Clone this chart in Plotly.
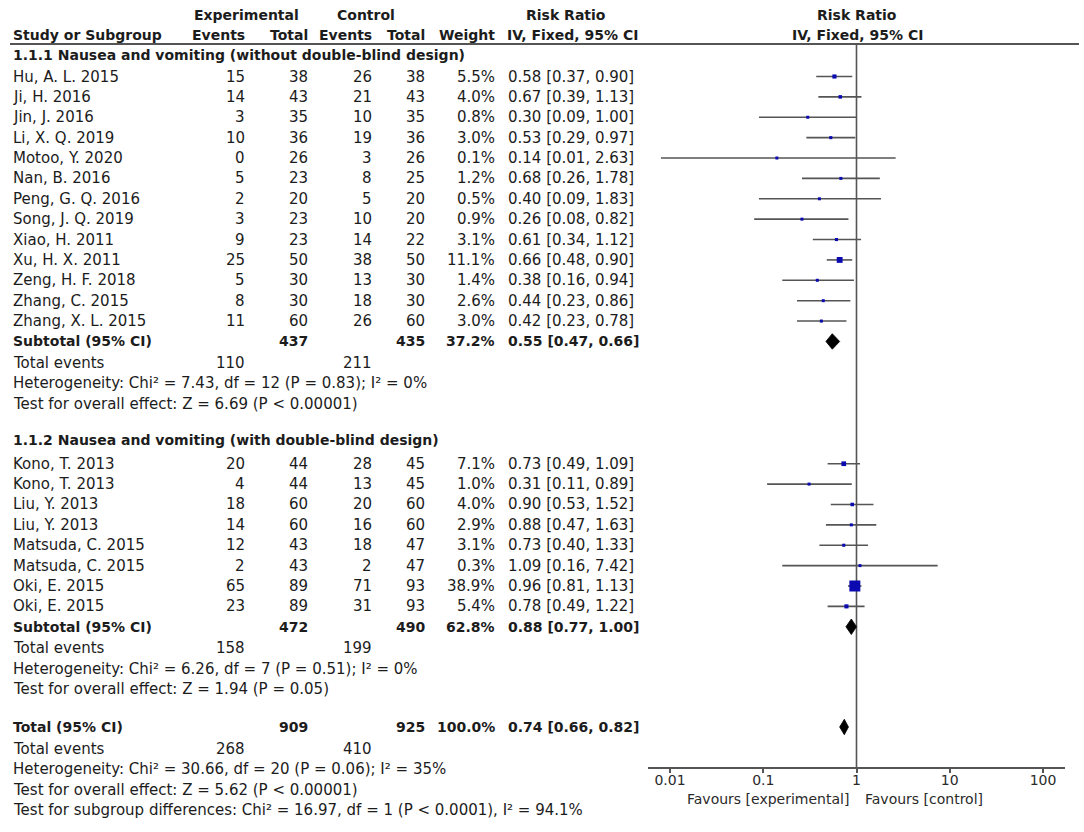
import plotly.graph_objects as go

# ---------------- data ----------------
# Subgroup 1.1.1
g1_study = ["Hu, A. L. 2015", "Ji, H. 2016", "Jin, J. 2016", "Li, X. Q. 2019", "Motoo, Y. 2020",
            "Nan, B. 2016", "Peng, G. Q. 2016", "Song, J. Q. 2019", "Xiao, H. 2011", "Xu, H. X. 2011",
            "Zeng, H. F. 2018", "Zhang, C. 2015", "Zhang, X. L. 2015"]
g1_exp_ev = [15, 14, 3, 10, 0, 5, 2, 3, 9, 25, 5, 8, 11]
g1_exp_tot = [38, 43, 35, 36, 26, 23, 20, 23, 23, 50, 30, 30, 60]
g1_ctl_ev = [26, 21, 10, 19, 3, 8, 5, 10, 14, 38, 13, 18, 26]
g1_ctl_tot = [38, 43, 35, 36, 26, 25, 20, 20, 22, 50, 30, 30, 60]
g1_weight = [5.5, 4.0, 0.8, 3.0, 0.1, 1.2, 0.5, 0.9, 3.1, 11.1, 1.4, 2.6, 3.0]
g1_rr = [0.58, 0.67, 0.30, 0.53, 0.14, 0.68, 0.40, 0.26, 0.61, 0.66, 0.38, 0.44, 0.42]
g1_lo = [0.37, 0.39, 0.09, 0.29, 0.008, 0.26, 0.09, 0.08, 0.34, 0.48, 0.16, 0.23, 0.23]
g1_hi = [0.90, 1.13, 1.00, 0.97, 2.63, 1.78, 1.83, 0.82, 1.12, 0.90, 0.94, 0.86, 0.78]

# Subgroup 1.1.2
g2_study = ["Kono, T. 2013", "Kono, T. 2013", "Liu, Y. 2013", "Liu, Y. 2013", "Matsuda, C. 2015",
            "Matsuda, C. 2015", "Oki, E. 2015", "Oki, E. 2015"]
g2_exp_ev = [20, 4, 18, 14, 12, 2, 65, 23]
g2_exp_tot = [44, 44, 60, 60, 43, 43, 89, 89]
g2_ctl_ev = [28, 13, 20, 16, 18, 2, 71, 31]
g2_ctl_tot = [45, 45, 60, 60, 47, 47, 93, 93]
g2_weight = [7.1, 1.0, 4.0, 2.9, 3.1, 0.3, 38.9, 5.4]
g2_rr = [0.73, 0.31, 0.90, 0.88, 0.73, 1.09, 0.96, 0.78]
g2_lo = [0.49, 0.11, 0.53, 0.47, 0.40, 0.16, 0.81, 0.49]
g2_hi = [1.09, 0.89, 1.52, 1.63, 1.33, 7.42, 1.13, 1.22]

# Summary rows: [subgroup 1, subgroup 2, overall]
sum_label = ["Subtotal (95% CI)", "Subtotal (95% CI)", "Total (95% CI)"]
sum_exp_tot = [437, 472, 909]
sum_ctl_tot = [435, 490, 925]
sum_weight = [37.2, 62.8, 100.0]
sum_rr = [0.55, 0.88, 0.74]
sum_lo = [0.47, 0.77, 0.66]
sum_hi = [0.66, 1.00, 0.82]
sum_exp_events = [110, 158, 268]
sum_ctl_events = [211, 199, 410]
sum_het = ["Heterogeneity: Chi² = 7.43, df = 12 (P = 0.83); I² = 0%",
           "Heterogeneity: Chi² = 6.26, df = 7 (P = 0.51); I² = 0%",
           "Heterogeneity: Chi² = 30.66, df = 20 (P = 0.06); I² = 35%"]
sum_test = ["Test for overall effect: Z = 6.69 (P < 0.00001)",
            "Test for overall effect: Z = 1.94 (P = 0.05)",
            "Test for overall effect: Z = 5.62 (P < 0.00001)"]
subgroup_diff = "Test for subgroup differences: Chi² = 16.97, df = 1 (P < 0.0001), I² = 94.1%"
group_titles = ["1.1.1 Nausea and vomiting (without double-blind design)",
                "1.1.2 Nausea and vomiting (with double-blind design)"]

tick_vals = [0.01, 0.1, 1, 10, 100]
tick_text = ["0.01", "0.1", "1", "10", "100"]
favours = ["Favours [experimental]", "Favours [control]"]

# ---------------- layout constants ----------------
W, H = 1084, 832
ROW0_PX, ROW_PX = 76.5, 20.38
R_TOP = -ROW0_PX / ROW_PX
R_BOT = (H - ROW0_PX) / ROW_PX
AXIS_ROW = (768 - ROW0_PX) / ROW_PX
HEAD_LINE_ROW = (44 - ROW0_PX) / ROW_PX

FONT = "DejaVu Sans"
TXT = "#1c1c1c"
REG = 15
BLD = 14

# row indices
g1_rows = list(range(0, 13))
head1_row = (54.5 - ROW0_PX) / ROW_PX
head2_row = (440 - ROW0_PX) / ROW_PX
g2_rows = list(range(19, 27))
sum_rows = [13, 27, (727 - ROW0_PX) / ROW_PX]
ev_rows = [14.05, 28.05, 33]
het_rows = [15.05, 29.05, 34]
test_rows = [16.05, 30.05, 35]
diff_row = 36

# column x positions (px)
X_STUDY = 12
X_EXP_EV = 246
X_EXP_TOT = 309
X_CTL_EV = 373
X_CTL_TOT = 426
X_WEIGHT = 496
X_RR = 507

annotations = []


def txt(xpx, row, text, anchor="left", bold=False, size=None, yref="y"):
    s = size if size else (BLD if bold else REG)
    annotations.append(dict(
        x=xpx / W, xref="paper", y=row, yref=yref,
        text=f"<b>{text}</b>" if bold else text,
        xanchor=anchor, yanchor="middle", showarrow=False,
        font=dict(family=FONT, size=s, color=TXT), borderpad=0))


# headers
hdr1 = (14.5 - ROW0_PX) / ROW_PX
hdr2 = (34.5 - ROW0_PX) / ROW_PX
txt(246, hdr1, "Experimental", "center", True)
txt(366, hdr1, "Control", "center", True)
txt(566, hdr1, "Risk Ratio", "center", True)
txt(857, hdr1, "Risk Ratio", "center", True)
txt(X_STUDY, hdr2, "Study or Subgroup", "left", True)
txt(X_EXP_EV, hdr2, "Events", "right", True)
txt(X_EXP_TOT, hdr2, "Total", "right", True)
txt(X_CTL_EV, hdr2, "Events", "right", True)
txt(X_CTL_TOT, hdr2, "Total", "right", True)
txt(X_WEIGHT, hdr2, "Weight", "right", True)
txt(X_RR - 1, hdr2, "IV, Fixed, 95% CI", "left", True)
txt(857, hdr2, "IV, Fixed, 95% CI", "center", True)

groups = [
    (g1_study, g1_exp_ev, g1_exp_tot, g1_ctl_ev, g1_ctl_tot, g1_weight, g1_rr, g1_lo, g1_hi, g1_rows, head1_row),
    (g2_study, g2_exp_ev, g2_exp_tot, g2_ctl_ev, g2_ctl_tot, g2_weight, g2_rr, g2_lo, g2_hi, g2_rows, head2_row),
]

ci_x, ci_y = [], []
sq_x, sq_y, sq_s = [], [], []
for gi, (st, ee, et, ce, ct, w, rr, lo, hi, rows, hrow) in enumerate(groups):
    txt(X_STUDY, hrow, group_titles[gi], "left", True)
    for i, r in enumerate(rows):
        txt(X_STUDY, r, st[i])
        txt(X_EXP_EV, r, str(ee[i]), "right")
        txt(X_EXP_TOT, r, str(et[i]), "right")
        txt(X_CTL_EV, r, str(ce[i]), "right")
        txt(X_CTL_TOT, r, str(ct[i]), "right")
        txt(X_WEIGHT, r, f"{w[i]:.1f}%", "right")
        txt(X_RR, r, f"{rr[i]:.2f} [{lo[i]:.2f}, {hi[i]:.2f}]")
        ci_x += [lo[i], hi[i], None]
        ci_y += [r, r, None]
        sq_x.append(rr[i])
        sq_y.append(r)
        sq_s.append(max(3.0, 11.0 * (w[i] / 38.9) ** 0.5))

dia_x, dia_y = [], []
HALF = 0.38
for k in range(3):
    r = sum_rows[k]
    txt(X_STUDY, r, sum_label[k], "left", True)
    txt(X_EXP_TOT, r, str(sum_exp_tot[k]), "right", True)
    txt(X_CTL_TOT, r, str(sum_ctl_tot[k]), "right", True)
    txt(X_WEIGHT, r, f"{sum_weight[k]:.1f}%", "right", True)
    txt(X_RR, r, f"{sum_rr[k]:.2f} [{sum_lo[k]:.2f}, {sum_hi[k]:.2f}]", "left", True)
    txt(X_STUDY, ev_rows[k], "Total events")
    txt(X_EXP_EV, ev_rows[k], str(sum_exp_events[k]), "right")
    txt(X_CTL_EV, ev_rows[k], str(sum_ctl_events[k]), "right")
    txt(X_STUDY, het_rows[k], sum_het[k])
    txt(X_STUDY, test_rows[k], sum_test[k])
    dia_x += [sum_lo[k], sum_rr[k], sum_hi[k], sum_rr[k], sum_lo[k], None]
    dia_y += [r, r - HALF, r, r + HALF, r, None]
txt(X_STUDY, diff_row, subgroup_diff)

# favours labels under axis
fav_row = (799 - ROW0_PX) / ROW_PX
annotations.append(dict(x=851 / W, xref="paper", y=fav_row, yref="y", text=favours[0],
                        xanchor="right", yanchor="middle", showarrow=False,
                        font=dict(family=FONT, size=14, color="#2a2a2a")))
annotations.append(dict(x=863 / W, xref="paper", y=fav_row, yref="y", text=favours[1],
                        xanchor="left", yanchor="middle", showarrow=False,
                        font=dict(family=FONT, size=14, color="#2a2a2a")))

fig = go.Figure()
fig.add_trace(go.Scatter(x=ci_x, y=ci_y, mode="lines", line=dict(color="#555555", width=1.6),
                         hoverinfo="skip", showlegend=False))
fig.add_trace(go.Scatter(x=sq_x, y=sq_y, mode="markers", opacity=1,
                         marker=dict(symbol="square", size=sq_s, color="#0a0ab0", opacity=1,
                                     line=dict(width=0)),
                         showlegend=False))
fig.add_trace(go.Scatter(x=dia_x, y=dia_y, mode="lines", fill="toself", fillcolor="#000000",
                         line=dict(color="#000000", width=0.8), showlegend=False, hoverinfo="skip"))

L0 = -2 - 22 / 93.25
L1 = 2 + 22 / 93.25
fig.update_layout(
    width=W, height=H, margin=dict(l=0, r=0, t=0, b=0),
    paper_bgcolor="white", plot_bgcolor="white",
    showlegend=False,
    xaxis=dict(type="log", range=[L0, L1], domain=[648 / W, 1065 / W],
               anchor="free", position=(R_BOT - AXIS_ROW) / (R_BOT - R_TOP),
               tickvals=tick_vals, ticktext=tick_text, showgrid=False, zeroline=False,
               showline=True, linecolor="#555555", linewidth=2, ticks="outside", ticklen=4,
               tickcolor="#555555", tickwidth=1.5, ticklabelstandoff=-5,
               tickfont=dict(family=FONT, size=14, color="#2a2a2a")),
    yaxis=dict(range=[R_BOT, R_TOP], domain=[0, 1], visible=False, showgrid=False, zeroline=False),
    annotations=annotations,
    shapes=[
        dict(type="line", xref="paper", yref="y", x0=10 / W, x1=1079 / W,
             y0=HEAD_LINE_ROW, y1=HEAD_LINE_ROW, line=dict(color="#555555", width=2)),
        dict(type="line", xref="x", yref="y", x0=1, x1=1, y0=HEAD_LINE_ROW, y1=AXIS_ROW,
             line=dict(color="#555555", width=1.6), layer="below"),
    ],
)

fig.write_html("out.html", config={"displayModeBar": False},
               post_script="document.body.style.margin='0';")
